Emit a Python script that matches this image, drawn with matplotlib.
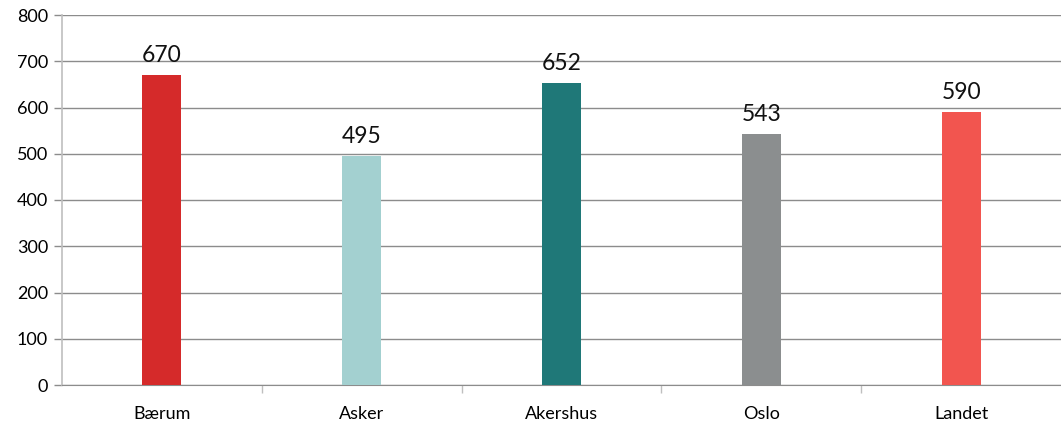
import matplotlib
matplotlib.use('Agg')
import matplotlib.pyplot as plt

regions = ['Bærum', 'Asker', 'Akershus', 'Oslo', 'Landet']
values = [670, 495, 652, 543, 590]
colors = ['#D52A2A', '#A3D0D0', '#1F7878', '#8B8E8F', '#F2554F']
yticks = [0, 100, 200, 300, 400, 500, 600, 700, 800]

plt.rcParams['font.family'] = ['Lato', 'DejaVu Sans']

fig = plt.figure(figsize=(10.61, 4.25), dpi=100)
ax = fig.add_axes([62 / 1061, 40 / 425, 1 - 62 / 1061, 370 / 425])

x = list(range(len(regions)))
ax.bar(x, values, width=0.195, color=colors, zorder=3)

for xi, v in zip(x, values):
    ax.text(xi, v + 20, str(v), ha='center', va='bottom', fontsize=16.5, color='#111111')

ax.set_xlim(-0.5, len(regions) - 0.5)
ax.set_ylim(0, 800)
ax.set_yticks(yticks)
ax.yaxis.grid(True, color='#8C8C8C', linewidth=1.0, zorder=0)
ax.set_axisbelow(True)

ax.set_xticks(x)
ax.set_xticklabels(regions, fontsize=13)
ax.tick_params(axis='x', length=0, pad=15)
ax.set_xticks([i + 0.5 for i in x[:-1]], minor=True)
ax.tick_params(axis='x', which='minor', length=6, color='#BFBFBF', width=1)
ax.tick_params(axis='y', length=6, color='#8C8C8C', width=1, labelsize=13, pad=4)

for s in ['top', 'right']:
    ax.spines[s].set_visible(False)
ax.spines['left'].set_color('#BFBFBF')
ax.spines['bottom'].set_color('#8C8C8C')
ax.spines['left'].set_linewidth(1.2)

fig.savefig('out.png', dpi=100)
